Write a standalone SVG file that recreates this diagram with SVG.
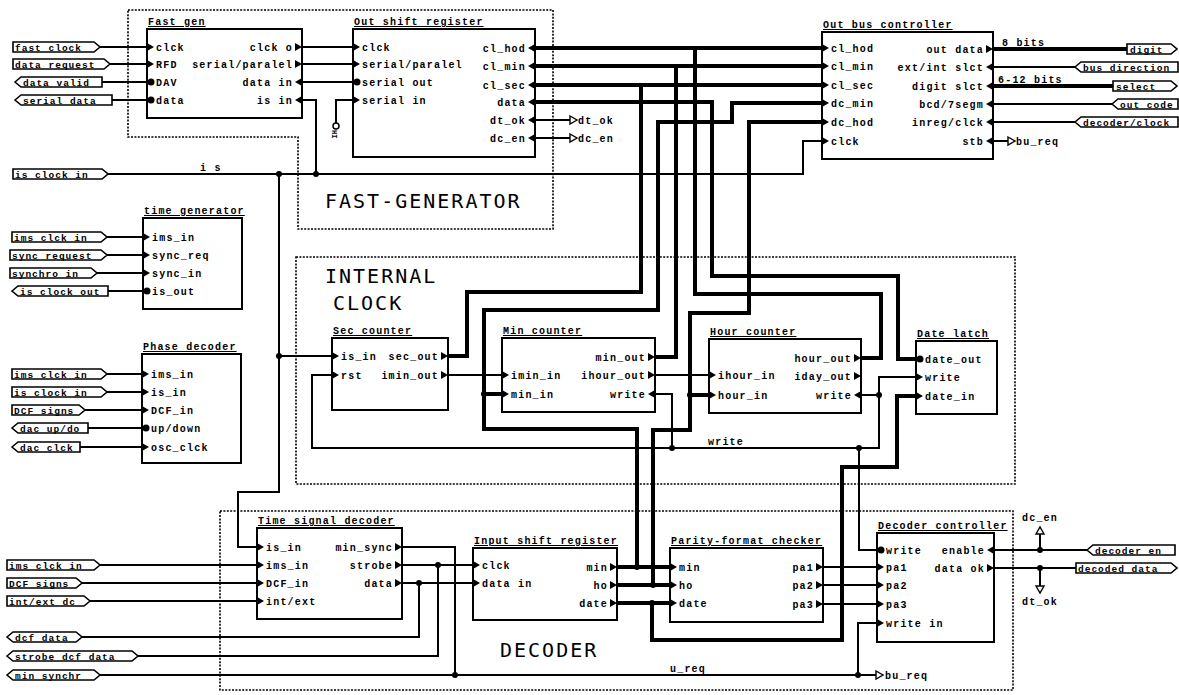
<svg xmlns="http://www.w3.org/2000/svg" width="1179" height="695" viewBox="0 0 1179 695">
<style>
.bx{fill:none;stroke:#000;stroke-width:2}
.w{fill:none;stroke:#000;stroke-width:2}
.tw{fill:none;stroke:#000;stroke-width:4}
.dt{fill:none;stroke:#000;stroke-width:1.6;stroke-dasharray:2 1.4}
text{font-family:"Liberation Mono","DejaVu Sans Mono",monospace;font-size:10px;font-weight:bold;letter-spacing:1.2px;fill:#000}
.ttl{text-decoration:underline}
.e{text-anchor:end}
.big{font-family:"DejaVu Sans Mono",monospace;font-size:20px;font-weight:normal;letter-spacing:2px}
.lb{fill:#fff;stroke:#000;stroke-width:1.6}
.lt{font-size:9.5px;letter-spacing:1px}
.pin{fill:#fff;stroke:#000;stroke-width:1.4}
</style>
<defs>
<path id="mr" d="M0,-4L7,0L0,4Z"/>
<path id="ml" d="M0,-4L-7,0L0,4Z"/>
<circle id="mc" r="3.5"/>
<circle id="jd" r="3"/>
</defs>
<rect width="1179" height="695" fill="#fff"/>

<g id="regions">
<polygon class="dt" points="128,10 553,10 553,229 298,229 298,137 128,137"/>
<rect class="dt" x="296" y="257" width="719" height="227"/>
<rect class="dt" x="220" y="511" width="793" height="179"/>
<text class="big" x="325" y="208">FAST-GENERATOR</text>
<text class="big" x="325" y="283">INTERNAL</text>
<text class="big" x="333" y="310">CLOCK</text>
<text class="big" x="500" y="657">DECODER</text>
</g>

<g id="connectors">
<path class="w" d="M100,47H147M110,64H147M102,82H147M112,100H147"/>
<path class="w" d="M302,47H353M302,64H353M302,82H353M302,100H316V174M353,100H336V123"/>
<circle cx="336" cy="126" r="3" fill="#fff" stroke="#000" stroke-width="1.5"/>
<text x="332" y="130" transform="rotate(90 332 130)" style="font-size:7px;letter-spacing:0">HI</text>
<path class="w" d="M108,174H803V141H822M279,174V492H238V547H257M279,356H332"/>
<path class="w" d="M535,120H570M535,138H570"/>
<path class="pin" d="M570,116L577,120L570,124ZM570,134L577,138L570,142Z"/>
<text x="578" y="123.5">dt_ok</text>
<text x="578" y="141.5">dc_en</text>
<path class="w" d="M993,67H1075M993,104H1112M993,122H1075M993,141H1008"/>
<path class="pin" d="M1008,137L1015,141L1008,145Z"/>
<text x="1016" y="144.5">bu_req</text>
<text x="1002" y="46">8 bits</text>
<text x="998" y="83">6-12 bits</text>
<path class="w" d="M107,237H143M107,255H143M97,273H143M108,291H143"/>
<path class="w" d="M107,374H142M107,392H142M85,410H142M88,428H142M80,447H142"/>
<path class="w" d="M448,375H502M655,375H709"/>
<path class="w" d="M332,375H312V448H879V377H916M861,395H879M655,394H672V448M859,448V550H877"/>
<text x="708" y="445">write</text>
<text x="200" y="171">i s</text>
<path class="w" d="M100,565H257M82,583H257M90,601H257"/>
<path class="w" d="M402,547H455V675M100,675H876M858,675V623H877"/>
<path class="pin" d="M876,671L883,675L876,679Z"/>
<text x="885" y="678.5">bu_req</text>
<text x="670" y="672">u_req</text>
<path class="w" d="M402,565H473M438,565V656H138M402,583H473M419,583V637H82"/>
<path class="w" d="M823,567H877M823,585H877M823,604H877"/>
<path class="w" d="M994,550H1087M1040,550V534M994,568H1076M1040,568V586"/>
<path class="pin" d="M1036,534L1040,527L1044,534ZM1036,586L1040,593L1044,586Z"/>
<text x="1022" y="521">dc_en</text>
<text x="1022" y="605">dt_ok</text>

<path class="tw" d="M993,49H1127M993,86H1113"/>
<path class="tw" d="M535,48H822M535,66H822M535,85H822"/>
<path class="tw" d="M695,48V294H881V358H861"/>
<path class="tw" d="M676,66V357H655"/>
<path class="tw" d="M641,85V292H467V356H448"/>
<path class="tw" d="M535,102H712V276H898V359H916"/>
<path class="tw" d="M822,103H732V122H658V310H484V429H637V567M484,394H502"/>
<path class="tw" d="M822,122H749V313H690V430H653V585M690,395H709"/>
<path class="tw" d="M617,567H670M617,585H670M617,603H670"/>
<path class="tw" d="M652,603V640H842V467H897V396H916"/>

<use href="#jd" x="279" y="174"/><use href="#jd" x="316" y="174"/><use href="#jd" x="279" y="356"/>
<use href="#jd" x="484" y="394"/><use href="#jd" x="690" y="395"/><use href="#jd" x="672" y="448"/>
<use href="#jd" x="859" y="448"/><use href="#jd" x="879" y="395"/><use href="#jd" x="438" y="565"/>
<use href="#jd" x="419" y="583"/><use href="#jd" x="455" y="675"/><use href="#jd" x="858" y="675"/>
<use href="#jd" x="637" y="567"/><use href="#jd" x="653" y="585"/><use href="#jd" x="652" y="603"/>
<use href="#jd" x="1040" y="550"/><use href="#jd" x="1040" y="568"/>
</g>

<g id="offpage-labels">
<path class="lb" d="M13,42H94L100,47L94,52H13Z"/><text class="lt" x="15" y="50.5">fast clock</text>
<path class="lb" d="M13,59H104L110,64L104,69H13Z"/><text class="lt" x="15" y="67.5">data request</text>
<path class="lb" d="M15,82L21,77H102V87H21Z"/><text class="lt" x="23" y="85.5">data valid</text>
<path class="lb" d="M15,100L21,95H112V105H21Z"/><text class="lt" x="23" y="103.5">serial data</text>
<path class="lb" d="M13,169H102L108,174L102,179H13Z"/><text class="lt" x="15" y="177.5">is clock in</text>
<path class="lb" d="M12,232H101L107,237L101,242H12Z"/><text class="lt" x="14" y="240.5">ims clck in</text>
<path class="lb" d="M10,250H101L107,255L101,260H10Z"/><text class="lt" x="12" y="258.5">sync request</text>
<path class="lb" d="M10,268H91L97,273L91,278H10Z"/><text class="lt" x="12" y="276.5">synchro in</text>
<path class="lb" d="M12,291L18,286H108V296H18Z"/><text class="lt" x="20" y="294.5">is clock out</text>
<path class="lb" d="M12,369H101L107,374L101,379H12Z"/><text class="lt" x="14" y="377.5">ims clck in</text>
<path class="lb" d="M12,387H101L107,392L101,397H12Z"/><text class="lt" x="14" y="395.5">is clock in</text>
<path class="lb" d="M12,405H79L85,410L79,415H12Z"/><text class="lt" x="14" y="413.5">DCF signs</text>
<path class="lb" d="M12,428L18,423H88V433H18Z"/><text class="lt" x="20" y="431.5">dac up/do</text>
<path class="lb" d="M12,447L18,442H80V452H18Z"/><text class="lt" x="20" y="450.5">dac clck</text>
<path class="lb" d="M7,560H94L100,565L94,570H7Z"/><text class="lt" x="9" y="568.5">ims clck in</text>
<path class="lb" d="M7,578H76L82,583L76,588H7Z"/><text class="lt" x="9" y="586.5">DCF signs</text>
<path class="lb" d="M7,596H84L90,601L84,606H7Z"/><text class="lt" x="9" y="604.5">int/ext dc</text>
<path class="lb" d="M7,637L13,632H76L82,637L76,642H13Z"/><text class="lt" x="15" y="640.5">dcf data</text>
<path class="lb" d="M7,656L13,651H132L138,656L132,661H13Z"/><text class="lt" x="15" y="659.5">strobe dcf data</text>
<path class="lb" d="M7,675L13,670H94L100,675L94,680H13Z"/><text class="lt" x="15" y="678.5">min synchr</text>
<path class="lb" d="M1127,44H1171L1177,49L1171,54H1127Z"/><text class="lt" x="1130" y="52.5">digit</text>
<path class="lb" d="M1075,67L1081,62H1178V72H1081Z"/><text class="lt" x="1083" y="70.5">bus direction</text>
<path class="lb" d="M1113,81H1171L1177,86L1171,91H1113Z"/><text class="lt" x="1116" y="89.5">select</text>
<path class="lb" d="M1112,104L1118,99H1178V109H1118Z"/><text class="lt" x="1120" y="107.5">out code</text>
<path class="lb" d="M1075,122L1081,117H1178V127H1081Z"/><text class="lt" x="1083" y="125.5">decoder/clock</text>
<path class="lb" d="M1087,550L1093,545H1175V555H1093Z"/><text class="lt" x="1095" y="553.5">decoder en</text>
<path class="lb" d="M1076,563H1171L1177,568L1171,573H1076Z"/><text class="lt" x="1078" y="571.5">decoded data</text>
</g>

<g id="fast-gen">
<rect class="bx" x="147" y="29" width="155" height="89"/>
<text class="ttl" x="148" y="25">Fast gen</text>
<use href="#mr" x="147" y="47"/><text x="156" y="50.5">clck</text>
<use href="#mr" x="147" y="64"/><text x="156" y="67.5">RFD</text>
<use href="#mc" x="151" y="82"/><text x="156" y="85.5">DAV</text>
<use href="#mc" x="151" y="100"/><text x="156" y="103.5">data</text>
<use href="#mr" x="295" y="47"/><text class="e" x="293" y="50.5">clck o</text>
<use href="#mr" x="295" y="64"/><text class="e" x="293" y="67.5">serial/paralel</text>
<use href="#ml" x="302" y="82"/><text class="e" x="293" y="85.5">data in</text>
<use href="#ml" x="302" y="100"/><text class="e" x="293" y="103.5">is in</text>
</g>

<g id="out-shift-register">
<rect class="bx" x="353" y="29" width="182" height="128"/>
<text class="ttl" x="354" y="25">Out shift register</text>
<use href="#mr" x="353" y="47"/><text x="362" y="50.5">clck</text>
<use href="#mr" x="353" y="64"/><text x="362" y="67.5">serial/paralel</text>
<use href="#mc" x="357" y="82"/><text x="362" y="85.5">serial out</text>
<use href="#mr" x="353" y="100"/><text x="362" y="103.5">serial in</text>
<use href="#ml" x="535" y="48"/><text class="e" x="526" y="51.5">cl_hod</text>
<use href="#ml" x="535" y="66"/><text class="e" x="526" y="69.5">cl_min</text>
<use href="#ml" x="535" y="85"/><text class="e" x="526" y="88.5">cl_sec</text>
<use href="#ml" x="535" y="102"/><text class="e" x="526" y="105.5">data</text>
<use href="#ml" x="535" y="120"/><text class="e" x="526" y="123.5">dt_ok</text>
<use href="#ml" x="535" y="138"/><text class="e" x="526" y="141.5">dc_en</text>
</g>

<g id="out-bus-controller">
<rect class="bx" x="822" y="32" width="171" height="127"/>
<text class="ttl" x="823" y="28">Out bus controller</text>
<use href="#mr" x="822" y="48"/><text x="831" y="51.5">cl_hod</text>
<use href="#mr" x="822" y="66"/><text x="831" y="69.5">cl_min</text>
<use href="#mr" x="822" y="85"/><text x="831" y="88.5">cl_sec</text>
<use href="#mr" x="822" y="103"/><text x="831" y="106.5">dc_min</text>
<use href="#mr" x="822" y="122"/><text x="831" y="125.5">dc_hod</text>
<use href="#mr" x="822" y="141"/><text x="831" y="144.5">clck</text>
<use href="#mr" x="986" y="49"/><text class="e" x="984" y="52.5">out data</text>
<use href="#ml" x="993" y="67"/><text class="e" x="984" y="70.5">ext/int slct</text>
<use href="#ml" x="993" y="86"/><text class="e" x="984" y="89.5">digit slct</text>
<use href="#ml" x="993" y="104"/><text class="e" x="984" y="107.5">bcd/7segm</text>
<use href="#ml" x="993" y="122"/><text class="e" x="984" y="125.5">inreg/clck</text>
<use href="#ml" x="993" y="141"/><text class="e" x="984" y="144.5">stb</text>
</g>

<g id="time-generator">
<rect class="bx" x="143" y="218" width="99" height="91"/>
<text class="ttl" x="144" y="214">time generator</text>
<use href="#mr" x="143" y="237"/><text x="152" y="240.5">ims_in</text>
<use href="#mr" x="143" y="255"/><text x="152" y="258.5">sync_req</text>
<use href="#mr" x="143" y="273"/><text x="152" y="276.5">sync_in</text>
<use href="#mc" x="147" y="291"/><text x="152" y="294.5">is_out</text>
</g>

<g id="phase-decoder">
<rect class="bx" x="142" y="354" width="99" height="109"/>
<text class="ttl" x="143" y="350">Phase decoder</text>
<use href="#mr" x="142" y="374"/><text x="151" y="377.5">ims_in</text>
<use href="#mr" x="142" y="392"/><text x="151" y="395.5">is_in</text>
<use href="#mr" x="142" y="410"/><text x="151" y="413.5">DCF_in</text>
<use href="#mc" x="146" y="428"/><text x="151" y="431.5">up/down</text>
<use href="#mr" x="142" y="447"/><text x="151" y="450.5">osc_clck</text>
</g>

<g id="sec-counter">
<rect class="bx" x="332" y="338" width="116" height="72"/>
<text class="ttl" x="333" y="334">Sec counter</text>
<use href="#mr" x="332" y="356"/><text x="341" y="359.5">is_in</text>
<use href="#mr" x="332" y="375"/><text x="341" y="378.5">rst</text>
<use href="#mr" x="441" y="356"/><text class="e" x="439" y="359.5">sec_out</text>
<use href="#mr" x="441" y="375"/><text class="e" x="439" y="378.5">imin_out</text>
</g>

<g id="min-counter">
<rect class="bx" x="502" y="338" width="153" height="74"/>
<text class="ttl" x="503" y="334">Min counter</text>
<use href="#mr" x="502" y="375"/><text x="511" y="378.5">imin_in</text>
<use href="#mr" x="502" y="394"/><text x="511" y="397.5">min_in</text>
<use href="#mr" x="648" y="357"/><text class="e" x="646" y="360.5">min_out</text>
<use href="#mr" x="648" y="375"/><text class="e" x="646" y="378.5">ihour_out</text>
<use href="#ml" x="655" y="394"/><text class="e" x="646" y="397.5">write</text>
</g>

<g id="hour-counter">
<rect class="bx" x="709" y="339" width="152" height="74"/>
<text class="ttl" x="710" y="335">Hour counter</text>
<use href="#mr" x="709" y="375"/><text x="718" y="378.5">ihour_in</text>
<use href="#mr" x="709" y="395"/><text x="718" y="398.5">hour_in</text>
<use href="#mr" x="854" y="358"/><text class="e" x="852" y="361.5">hour_out</text>
<use href="#mr" x="854" y="376"/><text class="e" x="852" y="379.5">iday_out</text>
<use href="#ml" x="861" y="395"/><text class="e" x="852" y="398.5">write</text>
</g>

<g id="date-latch">
<rect class="bx" x="916" y="341" width="81" height="73"/>
<text class="ttl" x="917" y="337">Date latch</text>
<use href="#mc" x="920" y="359"/><text x="925" y="362.5">date_out</text>
<use href="#mr" x="916" y="377"/><text x="925" y="380.5">write</text>
<use href="#mr" x="916" y="396"/><text x="925" y="399.5">date_in</text>
</g>

<g id="time-signal-decoder">
<rect class="bx" x="257" y="528" width="145" height="91"/>
<text class="ttl" x="258" y="524">Time signal decoder</text>
<use href="#mr" x="257" y="547"/><text x="266" y="550.5">is_in</text>
<use href="#mr" x="257" y="565"/><text x="266" y="568.5">ims_in</text>
<use href="#mr" x="257" y="583"/><text x="266" y="586.5">DCF_in</text>
<use href="#mr" x="257" y="601"/><text x="266" y="604.5">int/ext</text>
<use href="#mr" x="395" y="547"/><text class="e" x="393" y="550.5">min_sync</text>
<use href="#mr" x="395" y="565"/><text class="e" x="393" y="568.5">strobe</text>
<use href="#mr" x="395" y="583"/><text class="e" x="393" y="586.5">data</text>
</g>

<g id="input-shift-register">
<rect class="bx" x="473" y="548" width="144" height="72"/>
<text class="ttl" x="474" y="544">Input shift register</text>
<use href="#mr" x="473" y="565"/><text x="482" y="568.5">clck</text>
<use href="#mr" x="473" y="583"/><text x="482" y="586.5">data in</text>
<use href="#mr" x="610" y="567"/><text class="e" x="608" y="570.5">min</text>
<use href="#mr" x="610" y="585"/><text class="e" x="608" y="588.5">ho</text>
<use href="#mr" x="610" y="603"/><text class="e" x="608" y="606.5">date</text>
</g>

<g id="parity-format-checker">
<rect class="bx" x="670" y="548" width="153" height="74"/>
<text class="ttl" x="671" y="544">Parity-format checker</text>
<use href="#mr" x="670" y="567"/><text x="679" y="570.5">min</text>
<use href="#mr" x="670" y="585"/><text x="679" y="588.5">ho</text>
<use href="#mr" x="670" y="603"/><text x="679" y="606.5">date</text>
<use href="#mr" x="816" y="567"/><text class="e" x="814" y="570.5">pa1</text>
<use href="#mr" x="816" y="585"/><text class="e" x="814" y="588.5">pa2</text>
<use href="#mr" x="816" y="604"/><text class="e" x="814" y="607.5">pa3</text>
</g>

<g id="decoder-controller">
<rect class="bx" x="877" y="533" width="117" height="109"/>
<text class="ttl" x="878" y="529">Decoder controller</text>
<use href="#mc" x="881" y="550"/><text x="886" y="553.5">write</text>
<use href="#mr" x="877" y="567"/><text x="886" y="570.5">pa1</text>
<use href="#mr" x="877" y="585"/><text x="886" y="588.5">pa2</text>
<use href="#mr" x="877" y="604"/><text x="886" y="607.5">pa3</text>
<use href="#mr" x="877" y="623"/><text x="886" y="626.5">write in</text>
<use href="#ml" x="994" y="550"/><text class="e" x="985" y="553.5">enable</text>
<use href="#mr" x="987" y="568"/><text class="e" x="985" y="571.5">data ok</text>
</g>
</svg>
